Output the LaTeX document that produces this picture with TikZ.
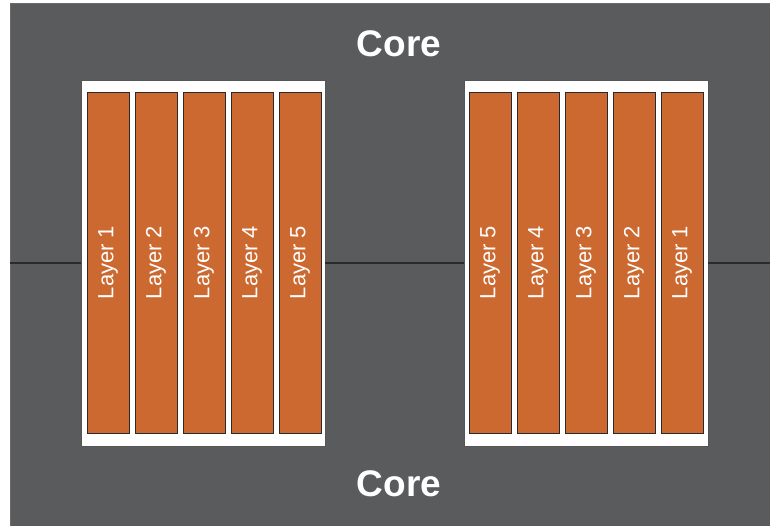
\documentclass[tikz,border=0pt]{standalone}
\usepackage{fontspec}
\setmainfont{Liberation Sans}
\definecolor{coregray}{HTML}{5A5B5D}
\definecolor{layerorange}{HTML}{CC6931}
\definecolor{edgedark}{HTML}{2A2A2C}
\tikzset{
  stack/.style={draw=edgedark!80, line width=0.8pt, fill=white, minimum width=244pt, minimum height=366pt, inner sep=0pt},
  layer/.style={draw=edgedark, line width=0.8pt, fill=layerorange, rotate=90, minimum width=341pt, minimum height=42pt, inner sep=0pt, text=white, font=\fontsize{22}{22}\selectfont},
  corelabel/.style={text=white, font=\fontsize{37}{37}\selectfont\bfseries}
}
\begin{document}
\begin{tikzpicture}[x=1pt, y=-1pt]
    \useasboundingbox (0,0) rectangle (770,526);

    % Draw the core background
    \draw[fill=coregray, draw=edgedark!70, line width=1pt] (10,4) rectangle (771,527);

    % Core labels
    \node[corelabel] (coretop) at (399,44) {Core};
    \node[corelabel] (corebottom) at (399,484) {Core};

    % The two stacks
    \node[stack] (leftstack) at (203,263) {};
    \node[stack] (rightstack) at (586,263) {};

    % Line through the stacks
    \coordinate (edgeL) at (10,263);
    \coordinate (edgeR) at (770,263);
    \draw[edgedark, line width=1.2pt] (edgeL) -- (leftstack.west);
    \draw[edgedark, line width=1.2pt] (leftstack.east) -- (rightstack.west);
    \draw[edgedark, line width=1.2pt] (rightstack.east) -- (edgeR);

    % Layers of the left stack
    \node[layer] (left1) at (108,262.5) {Layer 1};
    \node[layer] (left2) at (156,262.5) {Layer 2};
    \node[layer] (left3) at (204,262.5) {Layer 3};
    \node[layer] (left4) at (252,262.5) {Layer 4};
    \node[layer] (left5) at (300,262.5) {Layer 5};

    % Layers of the right stack
    \node[layer] (right5) at (490,262.5) {Layer 5};
    \node[layer] (right4) at (538,262.5) {Layer 4};
    \node[layer] (right3) at (586,262.5) {Layer 3};
    \node[layer] (right2) at (634,262.5) {Layer 2};
    \node[layer] (right1) at (682,262.5) {Layer 1};

\end{tikzpicture}
\end{document}
